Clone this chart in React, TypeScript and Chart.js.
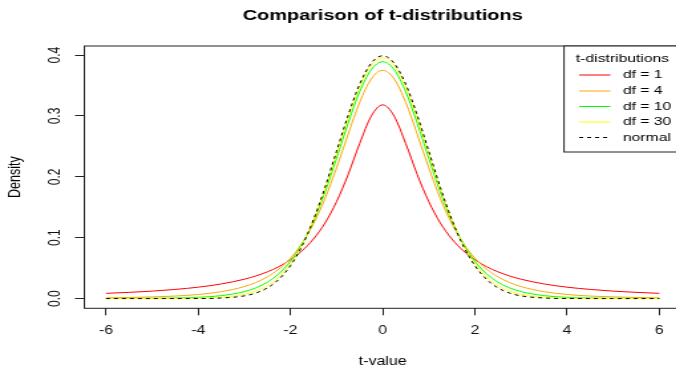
import React, { useEffect, useRef } from "react";
import { Chart, registerables } from "chart.js";

Chart.register(...registerables);

// ---------- data ----------
const tValues = [-6, -5.5, -5, -4.5, -4, -3.5, -3, -2.75, -2.5, -2.25, -2, -1.75, -1.5, -1.25, -1, -0.75, -0.5, -0.25, 0,
  0.25, 0.5, 0.75, 1, 1.25, 1.5, 1.75, 2, 2.25, 2.5, 2.75, 3, 3.5, 4, 4.5, 5, 5.5, 6];

const df1 = [0.0086, 0.0102, 0.0122, 0.0150, 0.0187, 0.0240, 0.0318, 0.0372, 0.0439, 0.0525, 0.0637, 0.0784, 0.0979, 0.1242, 0.1592, 0.2037, 0.2546, 0.2996, 0.3183,
  0.2996, 0.2546, 0.2037, 0.1592, 0.1242, 0.0979, 0.0784, 0.0637, 0.0525, 0.0439, 0.0372, 0.0318, 0.0240, 0.0187, 0.0150, 0.0122, 0.0102, 0.0086];
const df4 = [0.0012, 0.0018, 0.0027, 0.0041, 0.0067, 0.0113, 0.0197, 0.0264, 0.0357, 0.0485, 0.0663, 0.0905, 0.1229, 0.1644, 0.2147, 0.2699, 0.3223, 0.3607, 0.3750,
  0.3607, 0.3223, 0.2699, 0.2147, 0.1644, 0.1229, 0.0905, 0.0663, 0.0485, 0.0357, 0.0264, 0.0197, 0.0113, 0.0067, 0.0041, 0.0027, 0.0018, 0.0012];
const df10 = [0.0001, 0.0002, 0.0004, 0.0009, 0.0020, 0.0048, 0.0114, 0.0176, 0.0269, 0.0409, 0.0612, 0.0895, 0.1275, 0.1751, 0.2304, 0.2880, 0.3397, 0.3760, 0.3891,
  0.3760, 0.3397, 0.2880, 0.2304, 0.1751, 0.1275, 0.0895, 0.0612, 0.0409, 0.0269, 0.0176, 0.0114, 0.0048, 0.0020, 0.0009, 0.0004, 0.0002, 0.0001];
const df30 = [0.0000, 0.0000, 0.0000, 0.0001, 0.0005, 0.0020, 0.0068, 0.0121, 0.0211, 0.0353, 0.0569, 0.0877, 0.1290, 0.1801, 0.2380, 0.2967, 0.3479, 0.3831, 0.3956,
  0.3831, 0.3479, 0.2967, 0.2380, 0.1801, 0.1290, 0.0877, 0.0569, 0.0353, 0.0211, 0.0121, 0.0068, 0.0020, 0.0005, 0.0001, 0.0000, 0.0000, 0.0000];
const normal = [0.0000, 0.0000, 0.0000, 0.0000, 0.0001, 0.0009, 0.0044, 0.0091, 0.0175, 0.0317, 0.0540, 0.0863, 0.1295, 0.1827, 0.2420, 0.3011, 0.3521, 0.3867, 0.3989,
  0.3867, 0.3521, 0.3011, 0.2420, 0.1827, 0.1295, 0.0863, 0.0540, 0.0317, 0.0175, 0.0091, 0.0044, 0.0009, 0.0001, 0.0000, 0.0000, 0.0000, 0.0000];

const seriesLabels = ["df = 1", "df = 4", "df = 10", "df = 30", "normal"];
const seriesColors = ["#FF0000", "#FFA500", "#00FF00", "#FFFF00", "#000000"];

const xTickValues = [-6, -4, -2, 0, 2, 4, 6];
const xTickLabels = ["-6", "-4", "-2", "0", "2", "4", "6"];
const yTickValues = [0, 0.1, 0.2, 0.3, 0.4];
const yTickLabels = ["0.0", "0.1", "0.2", "0.3", "0.4"];

const titleText = "Comparison of t-distributions";
const xTitle = "t-value";
const yTitle = "Density";
const legendTitle = "t-distributions";

// ---------- layout (internal canvas units; canvas is stretched horizontally) ----------
const INNER_W = 527;
const CSS_W = 700;
const H = 370;
const FONT = "'Liberation Sans', Arial, sans-serif";

const decorPlugin = {
  id: "decor",
  afterDraw(chart: any) {
    const { ctx, chartArea } = chart;
    const { left, right, top, bottom } = chartArea;
    ctx.save();
    // frame
    ctx.strokeStyle = "#222";
    ctx.lineWidth = 1;
    ctx.strokeRect(left, top, right - left, bottom - top);

    const cx = (left + right) / 2;
    // title
    ctx.fillStyle = "#000";
    ctx.font = `bold 15px ${FONT}`;
    ctx.textAlign = "center";
    ctx.textBaseline = "middle";
    ctx.fillText(titleText, cx, 16);
    // x title
    ctx.font = `12px ${FONT}`;
    ctx.fillText(xTitle, cx, 362);
    // y title
    ctx.save();
    ctx.font = `12.5px ${FONT}`;
    ctx.translate(11.5, (top + bottom) / 2);
    ctx.rotate(-Math.PI / 2);
    ctx.fillText(yTitle, 0, 0);
    ctx.restore();

    // legend
    const lx = 424.6;
    const ly = top;
    const lr = right;
    const lb = 152;
    ctx.fillStyle = "#fff";
    ctx.fillRect(lx, ly, lr - lx, lb - ly);
    ctx.strokeStyle = "#222";
    ctx.lineWidth = 1;
    ctx.strokeRect(lx, ly, lr - lx, lb - ly);
    ctx.fillStyle = "#000";
    ctx.font = `11.8px ${FONT}`;
    ctx.textAlign = "center";
    ctx.fillText(legendTitle, (lx + lr) / 2, 59);
    const rowY = [75, 91, 106.5, 122, 137.5];
    chart.data.datasets.forEach((ds: any, i: number) => {
      const y = rowY[i];
      ctx.strokeStyle = ds.borderColor;
      ctx.lineWidth = 1;
      ctx.setLineDash(ds.borderDash || []);
      ctx.beginPath();
      ctx.moveTo(436, y);
      ctx.lineTo(459.5, y);
      ctx.stroke();
      ctx.setLineDash([]);
      ctx.fillStyle = "#000";
      ctx.textAlign = "left";
      ctx.fillText(ds.label, 469, y);
    });
    ctx.restore();
  },
};

export default function App() {
  const ref = useRef<HTMLCanvasElement | null>(null);

  useEffect(() => {
    const canvas = ref.current;
    if (!canvas) return;
    const datasets = [df1, df4, df10, df30, normal].map((arr, i) => ({
      label: seriesLabels[i],
      data: tValues.map((x, j) => ({ x, y: arr[j] })),
      borderColor: seriesColors[i],
      backgroundColor: seriesColors[i],
      borderWidth: 1,
      borderDash: i === 4 ? [3, 3] : [],
      pointRadius: 0,
      fill: false,
      cubicInterpolationMode: "monotone" as const,
      order: 5 - i,
    }));

    const chart = new Chart(canvas, {
      type: "line",
      data: { datasets },
      plugins: [decorPlugin],
      options: {
        animation: false,
        responsive: false,
        devicePixelRatio: 1,
        layout: { padding: { top: 46, right: 14.3, bottom: 0, left: 0 } },
        plugins: {
          legend: { display: false },
          title: { display: false },
          tooltip: { enabled: false },
        },
        scales: {
          x: {
            type: "linear",
            min: -6.47,
            max: 6.47,
            afterBuildTicks: (scale: any) => {
              scale.ticks = xTickValues.map((v) => ({ value: v }));
            },
            afterFit: (scale: any) => {
              scale.height = 61.7;
            },
            grid: { drawOnChartArea: false, drawTicks: true, tickLength: 7, color: "#222", lineWidth: 1 },
            border: { display: false },
            ticks: {
              padding: 8,
              color: "#111",
              font: { family: FONT, size: 12 },
              maxRotation: 0,
              autoSkip: false,
              callback: (_v: any, i: number) => xTickLabels[i],
            },
          },
          y: {
            type: "linear",
            min: -0.016,
            max: 0.415,
            afterBuildTicks: (scale: any) => {
              scale.ticks = yTickValues.map((v) => ({ value: v }));
            },
            afterFit: (scale: any) => {
              scale.width = 63.5;
            },
            grid: { drawOnChartArea: false, drawTicks: true, tickLength: 7, color: "#222", lineWidth: 1 },
            border: { display: false },
            ticks: {
              padding: 6,
              color: "#111",
              crossAlign: "center",
              minRotation: 90,
              maxRotation: 90,
              autoSkip: false,
              font: { family: FONT, size: 12 },
              callback: (_v: any, i: number) => yTickLabels[i],
            },
          },
        },
      },
    } as any);
    return () => chart.destroy();
  }, []);

  return (
    <div style={{ position: "fixed", left: 0, top: 0, width: 676, height: H, overflow: "hidden", background: "#fff" }}>
      <canvas
        ref={ref}
        width={INNER_W}
        height={H}
        style={{ display: "block", width: CSS_W + "px", height: H + "px" }}
      />
    </div>
  );
}
